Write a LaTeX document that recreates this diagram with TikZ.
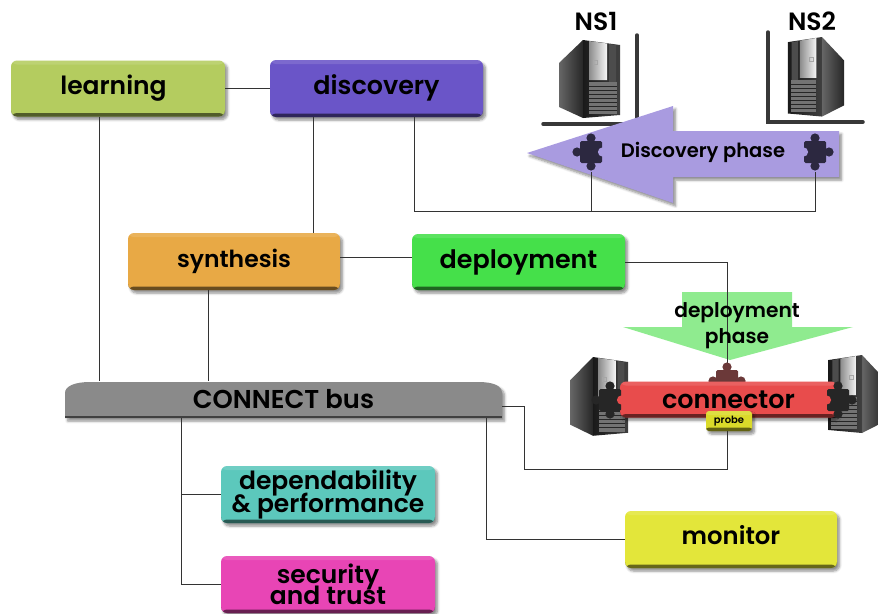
\documentclass[tikz,border=0pt]{standalone}
\usepackage{fontspec}
\setmainfont{Poppins}[BoldFont={Poppins SemiBold}]
\usetikzlibrary{shadows.blur,calc}
\definecolor{clearn}{HTML}{B4CC5F}
\definecolor{cdisc}{HTML}{6A55C8}
\definecolor{csyn}{HTML}{E8A945}
\definecolor{cdep}{HTML}{45E04A}
\definecolor{cdepend}{HTML}{5CC8BC}
\definecolor{csec}{HTML}{E845B5}
\definecolor{cmon}{HTML}{E3E63A}
\definecolor{cconn}{HTML}{E84C4C}
\definecolor{cprobe}{HTML}{DADA2A}
\definecolor{carrow}{HTML}{A99BE0}
\definecolor{cgreen}{HTML}{8FEB8F}
\definecolor{cbus}{HTML}{8A8A8A}
\definecolor{cpiece}{HTML}{2C2840}
\newcommand\fs[1]{\fontsize{#1}{21}\selectfont\bfseries}
\tikzset{
  softshadow/.style={blur shadow={shadow xshift=2.5pt,shadow yshift=-3pt,shadow blur steps=6,shadow opacity=45,shadow blur radius=2.5pt}},
  cbox/.style={rectangle,rounded corners=6pt,softshadow,font=\fs{25},align=center,inner sep=0pt,text=black,
    path picture={
      \fill[black,opacity=.55] ([yshift=3.5pt]path picture bounding box.south west) rectangle (path picture bounding box.south east);
      \fill[white,opacity=.12] (path picture bounding box.north west) rectangle ([yshift=-4pt]path picture bounding box.north east);
    }},
  conn/.style={draw=black!80,line width=.75pt},
  frameline/.style={draw=black!78,line width=3.5pt,line cap=round,line join=miter},
  lbl/.style={inner sep=0pt,text=black,font=\bfseries}
}
% tower: origin at top of the front-side edge
\newcommand\tower[4]{% x y xscale yscale
\begin{scope}[shift={(#1,#2)},xscale=#3,yscale=#4]
  \shade[left color=black!60,right color=black!85] (-24,23) -- (0,0) -- (0,78) -- (-24,67) -- cycle;
  \shade[left color=black!90,right color=black!75] (0,0) -- (37,5) -- (37,75) -- (0,78) -- cycle;
  \shade[left color=black!45,right color=black!3] (6,1) -- (24,3.5) -- (24,40) -- (6,40) -- cycle;
  \fill[black!70] (26,4) -- (33,5) -- (33,42) -- (26,42) -- cycle;
  \fill[black!55] (6,42) rectangle (34,74);
  \foreach \k in {46,50,...,72}{\draw[black!85,line width=.8pt] (6,\k) -- (34,\k);}
  \draw[black!35,line width=.5pt] (10,20) rectangle (14,24);
\end{scope}}
% puzzle piece
\newcommand\puzzle[6]{% name x y rotate colour notch
\coordinate (#1) at (#2,#3);
\begin{scope}[shift={(#2,#3)},rotate=#4]
  \fill[#5,rounded corners=1.5pt] (-11,-11) rectangle (11,11);
  \fill[#5] (0,-14) circle (4.6);
  \fill[#5] (0,14) circle (4.6);
  \fill[#5] (14,0) circle (4.6);
  \fill[#6] (-11.5,0) circle (4.6);
\end{scope}}
\begin{document}
\begin{tikzpicture}[x=1pt,y=-1pt]
\useasboundingbox (0,0) rectangle (878,613);
\clip (0,0) rectangle (878,613);
% NS servers
\tower{583}{40}{1}{1}
\tower{822}{37}{-.92}{1.02}
\draw[frameline] (637,35) -- (637,124) -- (543,124);
\draw[frameline] (768,32) -- (768,122) -- (863,122);
\node[lbl,font=\fs{25}] (ns1) at (596,21) {NS1};
\node[lbl,font=\fs{25}] (ns2) at (812,21) {NS2};
% discovery arrow
\fill[carrow,softshadow] (527,153) -- (673,106) -- (673,131) -- (839,131) -- (839,177) -- (673,177) -- (673,203) -- cycle;
\puzzle{pa}{591}{152}{180}{cpiece}{carrow}
\puzzle{pb}{815}{152}{0}{cpiece}{carrow}
\node[lbl,font=\fs{19.5}] (dphase) at (703,152) {Discovery phase};
% boxes
\node[cbox,fill=clearn,minimum width=214pt,minimum height=56pt] (learning) at (118,88.5) {\raisebox{-1pt}{\hspace*{-9pt}learning}};
\node[cbox,fill=cdisc,minimum width=213pt,minimum height=57pt,font=\fs{25.4}] (discovery) at (376.5,88.5) {\raisebox{7pt}{discovery}};
\node[cbox,fill=csyn,minimum width=212pt,minimum height=57pt,font=\fs{23.5}] (synthesis) at (234,261.5) {\raisebox{-2pt}{synthesis}};
\node[cbox,fill=cdep,minimum width=213pt,minimum height=56pt,font=\fs{25.4}] (deployment) at (518.5,262) {\raisebox{2pt}{deployment}};
\node[cbox,fill=cdepend,minimum width=214pt,minimum height=57pt] (depend) at (328,494.5) {dependability\\[-4.5pt]\& performance};
\node[cbox,fill=csec,minimum width=214pt,minimum height=57pt] (security) at (328,584.5) {security\\[-4.5pt]and trust};
\node[cbox,fill=cmon,minimum width=212pt,minimum height=57pt,font=\fs{24.3}] (monitor) at (731,539.5) {\raisebox{9pt}{monitor}};
% bus
\fill[cbus,softshadow] (65,418) -- (65,393) .. controls (65,386) and (75,382) .. (90,382) -- (478,382) .. controls (494,382) and (502,386) .. (502,393) -- (502,418) -- cycle;
\fill[black!75] (65,415.5) rectangle (502,418);
\node[lbl,minimum width=437pt,minimum height=36pt,font=\fs{25.8}] (bus) at (283.5,399) {CONNECT bus};
% deployment arrow
\fill[cgreen] (682,292) -- (792,292) -- (792,327) -- (853,327) -- (730,360) -- (623,327) -- (682,327) -- cycle;
% lower servers
\tower{593}{357}{.95}{1.01}
\tower{862}{355}{-.9}{1}
% connectors
\draw[conn] (learning.east) -- (discovery.west);
\draw[conn] ([xshift=-19pt]learning.south) -- ([xshift=-19pt]learning.south |- bus.north);
\draw[conn] ([xshift=-63pt]discovery.south) -- ([xshift=-63pt]discovery.south |- synthesis.north);
\coordinate (d1) at ([xshift=38pt]discovery.south);
\coordinate (d2) at ($(d1)+(0,94)$);
\draw[conn] (d1) -- (d2) -- (d2 -| pb) -- ([yshift=-20pt]pb);
\draw[conn] ([yshift=-20pt]pa) -- (pa |- d2);
\draw[conn] ([yshift=4pt]synthesis.east) -- ([yshift=4pt]synthesis.east -| deployment.west);
\draw[conn] ([xshift=-26pt]synthesis.south) -- ([xshift=-26pt]synthesis.south |- bus.north);
\coordinate (j1) at (727,469);
\coordinate (j2) at (524,469);
\coordinate (j3) at ([yshift=-7pt]bus.east);
\draw[conn] (deployment.east) -- (deployment.east -| j1) -- (j1) -- (j2) -- (j2 |- j3) -- (j3);
\coordinate (b1) at (181,418);
\coordinate (b2) at (486,418);
\draw[conn] (b1) -- (b1 |- security.west) -- (security.west);
\draw[conn] (b1 |- depend.west) -- (depend.west);
\draw[conn] (b2) -- (b2 |- monitor.west) -- (monitor.west);
% connector bar
\puzzle{pc}{727}{381}{90}{black!65!red!55!gray}{white}
\node[cbox,fill=cconn,minimum width=217pt,minimum height=36pt,font=\fs{25.5}] (connector) at (728.5,399.5) {connector};
\puzzle{pd}{610}{400}{180}{black!85}{cconn}
\puzzle{pe}{838}{400}{0}{black!85}{cconn}
\node[cbox,fill=cprobe,rounded corners=3pt,minimum width=46pt,minimum height=20pt,font=\fs{10}] (probe) at (729,421) {probe};
\draw[conn] (probe.south -| j1) -- (j1);
\node[lbl,align=center,font=\fontsize{20.2}{26}\selectfont\bfseries] (dep2) at (737,326) {deployment\\phase};
\end{tikzpicture}
\end{document}
